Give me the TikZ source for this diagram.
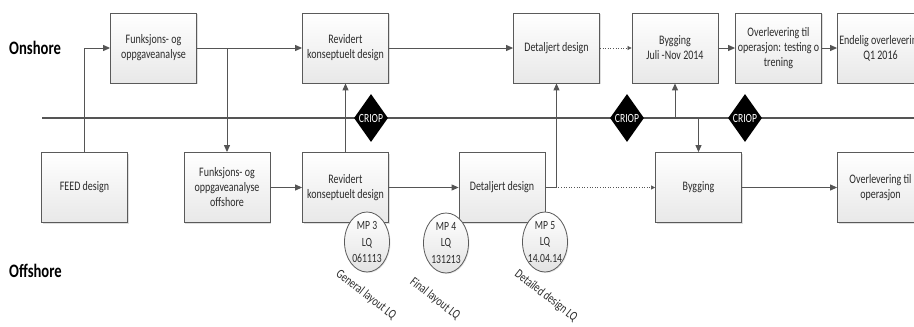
\documentclass[tikz,border=0pt]{standalone}
\usepackage{fontspec}
\setmainfont{Carlito}[FakeStretch=0.77]
\usetikzlibrary{shapes.geometric,arrows.meta,shadows}
\definecolor{ln}{HTML}{555555}
\definecolor{bd}{HTML}{5A5A5A}
\definecolor{tx}{HTML}{2B2B2B}
\tikzset{
  box/.style={draw=bd, line width=0.8pt, top color=white, bottom color=gray!18,
    minimum width=86pt, minimum height=70pt, align=center, inner sep=1pt,
    font=\fontsize{13}{15}\selectfont, text=tx,
    drop shadow={opacity=0.25, shadow xshift=1.2pt, shadow yshift=-1.2pt}},
  conn/.style={draw=ln, line width=1pt, -{Triangle[length=7pt,width=6pt]}},
  dotconn/.style={draw=ln, line width=0.6pt, dotted, -{Triangle[length=4pt,width=4pt]}},
  axisline/.style={draw=ln, line width=1.1pt},
  criop/.style={shape=diamond, fill=black, text=white, minimum width=34pt,
    minimum height=48pt, inner sep=0pt, font=\fontsize{12.5}{12.5}\selectfont},
  mp/.style={shape=ellipse, draw=bd, line width=0.8pt, top color=white, bottom color=gray!22,
    minimum width=45pt, minimum height=60pt, inner sep=-3pt, align=center,
    font=\fontsize{12.5}{16.5}\selectfont, text=tx,
    drop shadow={opacity=0.2, shadow xshift=1pt, shadow yshift=-1pt}},
  lq/.style={rotate=-38, text=tx, font=\fontsize{13}{13}\selectfont, inner sep=0pt},
  side/.style={anchor=west, text=black, font=\fontsize{19}{19}\bfseries\selectfont, inner sep=0pt}
}
\begin{document}
\begin{tikzpicture}[x=1pt,y=-1pt]
\useasboundingbox (0,0) rectangle (914,327);
\clip (0,0) rectangle (914,327);
% lane labels
\node[side] (on) at (9,48) {Onshore};
\node[side] (off) at (9,271) {Offshore};
% dividing line
\coordinate (hl0) at (42,118);
\coordinate (hl1) at (914,118);
\draw[axisline] (hl0) -- (hl1);
% onshore boxes
\node[box] (fo) at (153.5,48) {Funksjons- og\\oppgaveanalyse};
\node[box] (ro) at (345.5,48) {Revidert\\konseptuelt design};
\node[box] (do) at (556.5,48) {Detaljert design};
\node[box] (bo) at (675,48) {Bygging\\Juli -Nov 2014};
\node[box] (oo) at (778.5,48) {Overlevering til\\operasjon: testing o\\trening};
\node[box] (eo) at (880.5,48) {Endelig overlevering\\Q1 2016};
% offshore boxes
\node[box] (feed) at (84.5,187.5) {FEED design};
\node[box] (ff) at (227,187.5) {Funksjons- og\\oppgaveanalyse\\offshore};
\node[box] (rf) at (345.5,187.5) {Revidert\\konseptuelt design};
\node[box] (df) at (502,187.5) {Detaljert design};
\node[box] (bf) at (698.5,187.5) {Bygging};
\node[box] (of) at (880.5,187.5) {Overlevering til\\operasjon};
% connectors
\draw[conn] (feed.north) |- (fo.west);
\draw[conn] (fo.east) -- (ro.west);
\draw[conn] (fo.east -| ff.north) -- (ff.north);
\draw[conn] (ff.east) -- (rf.west);
\draw[conn] (rf.north) -- (ro.south);
\draw[conn] (ro.east) -- (do.west);
\draw[conn] (rf.east) -- (df.west);
\draw[conn] (df.east) -| (do.south);
\draw[dotconn] (df.east) -- (bf.west);
\draw[dotconn] (do.east) -- (bo.west);
\draw[conn] (hl0 -| bo.south) -- (bo.south);
\draw[conn] (hl0 -| bf.north) -- (bf.north);
\draw[conn] (bo.east) -- (oo.west);
\draw[conn] (oo.east) -- (eo.west);
\draw[conn] (bf.east) -- (of.west);
% CRIOP markers
\node[criop] (c1) at (371,118) {CRIOP};
\node[criop] (c2) at (627,118) {CRIOP};
\node[criop] (c3) at (745,118) {CRIOP};
% milestones
\node[mp] (m3) at (367,242) {MP 3\\LQ\\061113};
\node[mp] (m4) at (446,243) {MP 4\\LQ\\131213};
\node[mp] (m5) at (545,242) {MP 5\\LQ\\14.04.14};
% milestone labels
\node[lq] (l3) at (366,295) {General layout LQ};
\node[lq] (l4) at (435,299) {Final layout LQ};
\node[lq] (l5) at (546,296) {Detailed design LQ};
\end{tikzpicture}
\end{document}
